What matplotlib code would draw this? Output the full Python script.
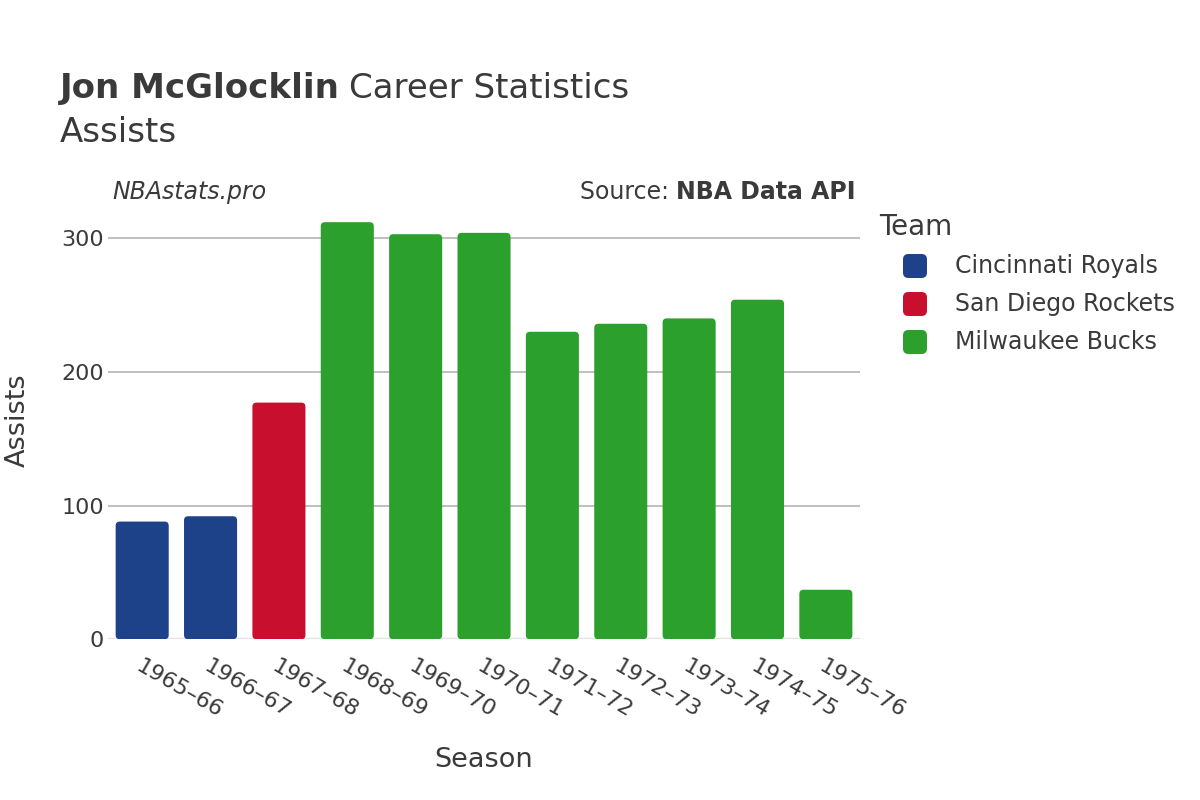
import matplotlib.pyplot as plt
from matplotlib.patches import FancyBboxPatch

seasons = ["1965–66", "1966–67", "1967–68", "1968–69", "1969–70", "1970–71",
           "1971–72", "1972–73", "1973–74", "1974–75", "1975–76"]
assists = [88, 92, 177, 312, 303, 304, 230, 236, 240, 254, 37]
teams = ["Cincinnati Royals", "Cincinnati Royals", "San Diego Rockets",
         "Milwaukee Bucks", "Milwaukee Bucks", "Milwaukee Bucks",
         "Milwaukee Bucks", "Milwaukee Bucks", "Milwaukee Bucks",
         "Milwaukee Bucks", "Milwaukee Bucks"]
team_names = ["Cincinnati Royals", "San Diego Rockets", "Milwaukee Bucks"]
team_colors = {"Cincinnati Royals": "#1d428a",
               "San Diego Rockets": "#c8102e",
               "Milwaukee Bucks": "#2ca02c"}

txt = "#3a3a3a"
plt.rcParams['font.family'] = ['DejaVu Sans']

W, H = 1200, 800
fig = plt.figure(figsize=(12, 8), dpi=100)
ax = fig.add_axes([0.09, 0.201, 0.6267, 0.543])

ymax = 325
ax.set_xlim(-0.5, len(seasons) - 0.5)
ax.set_ylim(0, ymax)

# rounded bars
w = 0.776
asp = (ymax / (0.543 * H)) / (len(seasons) / (0.6267 * W))
for i, (v, t) in enumerate(zip(assists, teams)):
    p = FancyBboxPatch((i - w / 2, 0), w, v,
                       boxstyle="round,pad=0,rounding_size=0.06",
                       mutation_aspect=asp,
                       fc=team_colors[t], ec="none", zorder=3)
    ax.add_patch(p)

# grid
for y in [100, 200, 300]:
    ax.axhline(y, color="#b4b4b4", lw=1.2, zorder=1)
ax.axhline(0, color="#e3e3e3", lw=2.5, zorder=2)

for s in ax.spines.values():
    s.set_visible(False)
ax.set_yticks([0, 100, 200, 300])
ax.tick_params(axis="y", length=0, labelsize=16, labelcolor=txt, pad=3)
ax.set_xticks(range(len(seasons)))
ax.set_xticklabels(seasons, rotation=-30, ha="left", va="top",
                   rotation_mode="anchor", fontsize=16, color=txt)
ax.tick_params(axis="x", length=0, pad=12)

fig.text(0.403, 0.05, "Season", fontsize=19.5, color=txt, va="center", ha="center")
fig.text(0.015, 0.475, "Assists", rotation=90, fontsize=19.5, color=txt,
         va="center", ha="center")

# titles
r = fig.canvas.get_renderer()
t1 = fig.text(0.05, 0.889, "Jon McGlocklin", fontsize=24.5, fontweight="bold",
              color=txt, va="center")
bb = t1.get_window_extent(renderer=r)
fig.text((bb.x1 + 9) / W, 0.889, "Career Statistics", fontsize=24.5,
         color=txt, va="center")
fig.text(0.05, 0.835, "Assists", fontsize=24.5, color=txt, va="center")

fig.text(0.094, 0.76, "NBAstats.pro", fontsize=17, style="italic",
         color=txt, va="center")
t2 = fig.text(0.7133, 0.76, "NBA Data API", fontsize=17, fontweight="bold",
              color=txt, va="center", ha="right")
bb2 = t2.get_window_extent(renderer=r)
fig.text(bb2.x0 / W, 0.76, "Source: ", fontsize=17, color=txt,
         va="center", ha="right")

# legend (drawn by hand to match the layout)
fig.text(879 / W, 1 - 227 / H, "Team", fontsize=20, color=txt, va="center")
for k, name in enumerate(team_names):
    yc = 266 + 38 * k
    sq = FancyBboxPatch((903 / W, 1 - (yc + 12) / H), 24 / W, 24 / H,
                        boxstyle="round,pad=0,rounding_size=0.0045",
                        mutation_aspect=W / H,
                        transform=fig.transFigure, fc=team_colors[name],
                        ec="none")
    fig.add_artist(sq)
    fig.text(955 / W, 1 - yc / H, name, fontsize=17, color=txt, va="center")

fig.savefig("out.png", dpi=100)
